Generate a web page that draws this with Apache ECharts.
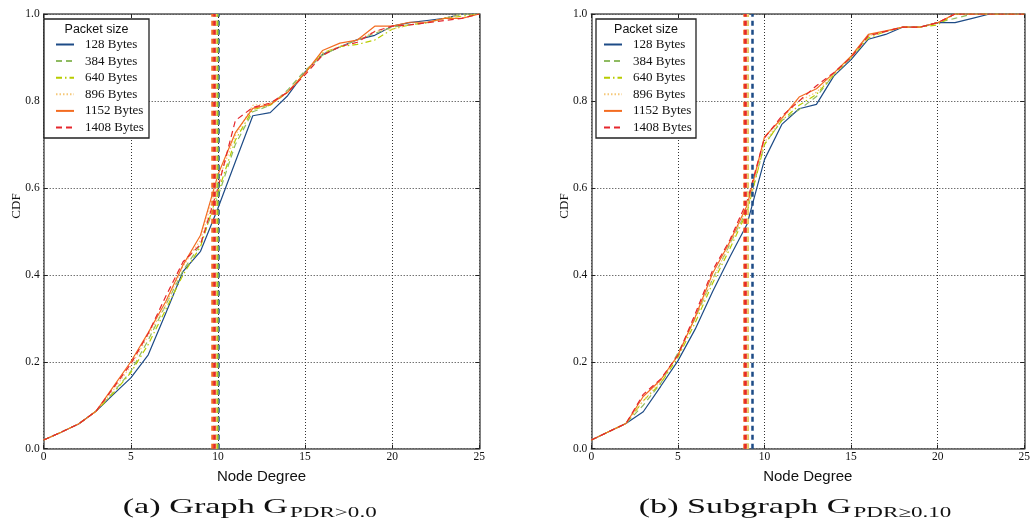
<!DOCTYPE html>
<html>
<head>
<meta charset="utf-8">
<script src="https://cdn.jsdelivr.net/npm/echarts@6/dist/echarts.min.js"></script>
<style>
html,body{margin:0;padding:0;background:#fff;}
#chart{width:1033px;height:530px;}
</style>
</head>
<body>
<div id="chart"></div>
<script>
// ---- data ----
var degrees = [0,1,2,3,4,5,6,7,8,9,10,11,12,13,14,15,16,17,18,19,20,21,22,23,24,25];
var seriesNames = ['128 Bytes','384 Bytes','640 Bytes','896 Bytes','1152 Bytes','1408 Bytes'];
var xTicks = [0,5,10,15,20,25];
var yTicks = [0.0,0.2,0.4,0.6,0.8,1.0];

// (a) Graph G_PDR>0.0
var a128  = [0.020,0.038,0.057,0.086,0.125,0.163,0.216,0.311,0.408,0.454,0.553,0.660,0.766,0.773,0.812,0.867,0.907,0.924,0.941,0.951,0.972,0.980,0.985,0.990,1.000,1.000];
var a384  = [0.020,0.038,0.057,0.086,0.130,0.178,0.250,0.330,0.410,0.470,0.580,0.700,0.775,0.790,0.825,0.870,0.905,0.925,0.940,0.955,0.970,0.975,0.980,0.990,1.000,1.000];
var a640  = [0.020,0.038,0.057,0.086,0.128,0.175,0.240,0.320,0.400,0.465,0.590,0.710,0.780,0.790,0.820,0.865,0.910,0.925,0.930,0.940,0.965,0.975,0.980,0.990,0.995,1.000];
var a896  = [0.020,0.038,0.057,0.086,0.135,0.190,0.260,0.330,0.420,0.480,0.615,0.720,0.790,0.795,0.820,0.865,0.910,0.925,0.940,0.960,0.965,0.975,0.980,0.990,1.000,1.000];
var a1152 = [0.020,0.038,0.057,0.086,0.143,0.200,0.267,0.338,0.423,0.491,0.630,0.727,0.783,0.792,0.820,0.864,0.916,0.933,0.940,0.972,0.972,0.981,0.981,0.990,0.990,1.000];
var a1408 = [0.020,0.038,0.057,0.086,0.140,0.195,0.265,0.350,0.430,0.470,0.600,0.755,0.785,0.795,0.820,0.860,0.905,0.925,0.935,0.960,0.972,0.975,0.980,0.985,0.990,1.000];
var aMeans = [10.04, 9.97, 9.90, 9.87, 9.68, 9.76];

// (b) Subgraph G_PDR>=0.10
var b128  = [0.020,0.039,0.058,0.085,0.143,0.202,0.275,0.361,0.441,0.517,0.665,0.746,0.782,0.792,0.857,0.895,0.942,0.953,0.970,0.970,0.980,0.980,0.990,1.000,1.000,1.000];
var b384  = [0.020,0.039,0.058,0.100,0.150,0.220,0.300,0.390,0.470,0.550,0.700,0.755,0.780,0.810,0.860,0.900,0.950,0.960,0.970,0.970,0.980,0.990,1.000,1.000,1.000,1.000];
var b640  = [0.020,0.039,0.058,0.110,0.150,0.210,0.290,0.380,0.460,0.545,0.700,0.755,0.790,0.815,0.860,0.900,0.945,0.960,0.970,0.970,0.975,1.000,1.000,1.000,1.000,1.000];
var b896  = [0.020,0.039,0.058,0.110,0.155,0.215,0.300,0.390,0.470,0.555,0.705,0.760,0.800,0.820,0.860,0.900,0.950,0.960,0.970,0.970,0.980,1.000,1.000,1.000,1.000,1.000];
var b1152 = [0.020,0.039,0.058,0.120,0.158,0.215,0.303,0.403,0.476,0.560,0.717,0.760,0.809,0.828,0.864,0.903,0.953,0.961,0.970,0.970,0.980,1.000,1.000,1.000,1.000,1.000];
var b1408 = [0.020,0.039,0.058,0.125,0.160,0.215,0.310,0.410,0.480,0.570,0.715,0.765,0.800,0.835,0.865,0.900,0.950,0.960,0.970,0.970,0.980,1.000,1.000,1.000,1.000,1.000];
var bMeans = [9.30, 9.03, 9.00, 8.98, 8.86, 8.90];

// ---- styles ----
var colors = ['#1d4b86','#8fbb62','#b8cc00','#f5c878','#f36c21','#e5262d'];
var dashes = ['solid',[6,4],[6,3,1.5,3],[1.5,2],'solid',[6,4]];

var aData = [a128,a384,a640,a896,a1152,a1408];
var bData = [b128,b384,b640,b896,b1152,b1408];

var tickFont = '"Liberation Serif", serif';

function pairs(arr){ return degrees.map(function(d,i){ return [d, arr[i]]; }); }

function makeSeries(dataSets, means, xi, yi){
  return dataSets.map(function(arr, k){
    return {
      name: seriesNames[k], type:'line', xAxisIndex:xi, yAxisIndex:yi,
      data: pairs(arr), symbol:'none', smooth:false, z:3,
      lineStyle:{color:colors[k], width:1.2, type:dashes[k]},
      itemStyle:{color:colors[k]},
      markLine:{
        silent:true, symbol:['none','none'], label:{show:false},
        lineStyle:{color:colors[k], width:2.5, type:[5,4]},
        data:[{xAxis: means[k]}],
        animation:false
      }
    };
  });
}

function xAxisPair(gi){
  var frame = {show:true, onZero:false, lineStyle:{color:'#555', width:1.5}};
  return [
    {type:'value', gridIndex:gi, position:'bottom', min:0, max:25, interval:5,
     axisLine:frame, axisTick:{show:true, inside:true, length:4, lineStyle:{color:'#222'}},
     axisLabel:{show:true, margin:2, fontSize:11.5, color:'#111', fontFamily:tickFont,
       formatter:function(v){ return xTicks.indexOf(v) >= 0 ? String(v) : ''; }},
     splitLine:{show:true, lineStyle:{color:'#333', type:[1,2], width:1}},
     name:'Node Degree', nameLocation:'middle', nameGap:21,
     nameTextStyle:{fontSize:15, color:'#111', fontFamily:'"Liberation Sans", Arial, sans-serif'}},
    {type:'value', gridIndex:gi, position:'top', min:0, max:25, interval:5,
     axisLine:frame, axisTick:{show:true, inside:true, length:4, lineStyle:{color:'#222'}},
     axisLabel:{show:false}, splitLine:{show:false}}
  ];
}
function yAxisPair(gi){
  var frame = {show:true, onZero:false, lineStyle:{color:'#555', width:1.5}};
  return [
    {type:'value', gridIndex:gi, position:'left', min:0, max:1, interval:0.2,
     axisLine:frame, axisTick:{show:true, inside:true, length:4, lineStyle:{color:'#222'}},
     axisLabel:{show:true, margin:4, fontSize:11.5, color:'#111', fontFamily:tickFont,
       formatter:function(v){ return v.toFixed(1); }},
     splitLine:{show:true, lineStyle:{color:'#333', type:[1,2], width:1}}},
    {type:'value', gridIndex:gi, position:'right', min:0, max:1, interval:0.2,
     axisLine:frame, axisTick:{show:true, inside:true, length:4, lineStyle:{color:'#222'}},
     axisLabel:{show:false}, splitLine:{show:false}}
  ];
}

function legendFor(left){
  return {
    show:true, orient:'vertical', left:left, top:38, padding:0,
    itemWidth:18, itemHeight:14, itemGap:3.6,
    data: seriesNames, selectedMode:false, z:20,
    itemStyle:{opacity:0},
    textStyle:{fontSize:13, color:'#111', fontFamily:'"Liberation Serif", serif', padding:[0,0,0,6]}
  };
}

// caption measurement
function measure(text, font){
  var c = document.createElement('canvas').getContext('2d');
  c.font = font; return c.measureText(text).width;
}
var capFont = '"Liberation Serif", serif';
var mainA = '(a) Graph G', subA = 'PDR>0.0';
var mainB = '(b) Subgraph G', subB = 'PDR\u22650.10';
var wMainA = measure(mainA, '21px ' + capFont);
var wSubA = measure(subA, '15px ' + capFont);
var sMain = 165.3 / wMainA;
var sSub = 86.7 / wSubA;
var wMainB = measure(mainB, '21px ' + capFont) * sMain;
var wSubB = measure(subB, '15px ' + capFont) * sSub;
var capAx = 122.7;
var capBx = 795 - (wMainB + 2 + wSubB) / 2;

function capText(txt, x, y, size, sc){
  return {type:'text', x:x, y:y, scaleX:sc, scaleY:1, z:10,
    style:{text:txt, font: size + 'px ' + capFont, fill:'#111', align:'left', verticalAlign:'middle'}};
}

var chart = echarts.init(document.getElementById('chart'), null, {renderer:'canvas'});
var option = {
  animation:false,
  backgroundColor:'#fff',
  grid:[
    {left:43.7, right:553.7, top:14, bottom:81.3},
    {left:591.3, right:7.7, top:14, bottom:81.3}
  ],
  xAxis: xAxisPair(0).concat(xAxisPair(1)),
  yAxis: yAxisPair(0).concat(yAxisPair(1)),
  legend:[legendFor(55), legendFor(603)],
  graphic:[
    {type:'rect', shape:{x:44, y:19, width:105, height:119}, z:15,
     style:{fill:'#fff', stroke:'#222', lineWidth:1.3}},
    {type:'rect', shape:{x:596, y:19, width:100, height:119}, z:15,
     style:{fill:'#fff', stroke:'#222', lineWidth:1.3}},
    {type:'text', x:96.5, y:29.5, z:20, style:{text:'Packet size', font:'12.5px "Liberation Sans", Arial, sans-serif', fill:'#111', align:'center', verticalAlign:'middle'}},
    {type:'text', x:646, y:29.5, z:20, style:{text:'Packet size', font:'12.5px "Liberation Sans", Arial, sans-serif', fill:'#111', align:'center', verticalAlign:'middle'}},
    {type:'text', x:16.5, y:206, rotation:Math.PI/2, z:10, style:{text:'CDF', font:'13px "Liberation Serif", serif', fill:'#111', align:'center', verticalAlign:'middle'}},
    {type:'text', x:564.5, y:206, rotation:Math.PI/2, z:10, style:{text:'CDF', font:'13px "Liberation Serif", serif', fill:'#111', align:'center', verticalAlign:'middle'}},
    capText(mainA, capAx, 507, 21, sMain),
    capText(subA, capAx + 165.3 + 2, 513, 15, sSub),
    capText(mainB, capBx, 507, 21, sMain),
    capText(subB, capBx + wMainB + 2, 513, 15, sSub)
  ],
  series: makeSeries(aData, aMeans, 0, 0).concat(makeSeries(bData, bMeans, 2, 2))
};
chart.setOption(option);
</script>
</body>
</html>
